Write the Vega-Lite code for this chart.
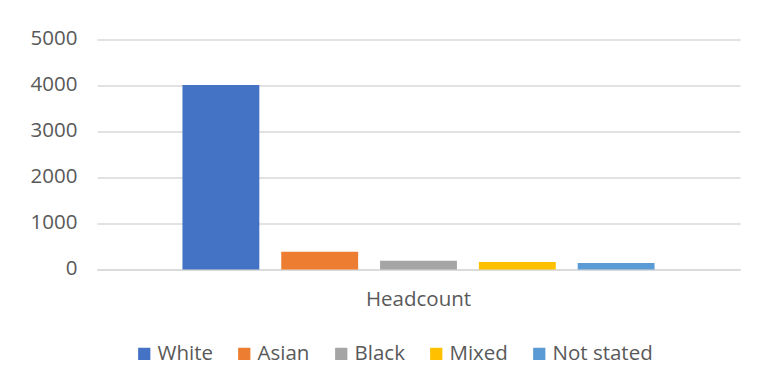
{
  "$schema": "https://vega.github.io/schema/vega-lite/v6.json",
  "width": 643,
  "height": 230,
  "autosize": {"type": "none"},
  "padding": {"left": 97, "top": 39.5, "right": 24, "bottom": 117},
  "background": "white",
  "config": {
    "view": {"stroke": null},
    "font": "Open Sans",
    "axis": {"labelFont": "Open Sans", "labelColor": "#595959", "labelFontSize": 20.5, "titleFont": "Open Sans"},
    "legend": {"labelFont": "Open Sans", "labelColor": "#595959", "labelFontSize": 20.5}
  },
  "data": {
    "values": [
      {"category": "Headcount", "group": "White", "value": 4010},
      {"category": "Headcount", "group": "Asian", "value": 385},
      {"category": "Headcount", "group": "Black", "value": 190},
      {"category": "Headcount", "group": "Mixed", "value": 163},
      {"category": "Headcount", "group": "Not stated", "value": 141}
    ]
  },
  "mark": {"type": "bar"},
  "encoding": {
    "x": {
      "field": "category",
      "type": "nominal",
      "scale": {"paddingInner": 0, "paddingOuter": 0.181},
      "axis": {"title": null, "labelAngle": 0, "ticks": false, "domainColor": "#d9d9d9", "domainWidth": 1.5, "labelPadding": 20}
    },
    "xOffset": {
      "field": "group",
      "type": "nominal",
      "sort": ["White", "Asian", "Black", "Mixed", "Not stated"],
      "scale": {"paddingInner": 0.222, "paddingOuter": 0}
    },
    "y": {
      "field": "value",
      "type": "quantitative",
      "scale": {"domain": [0, 5000], "nice": false},
      "axis": {"title": null, "values": [0, 1000, 2000, 3000, 4000, 5000], "format": "d", "labelOverlap": false, "labelBound": false, "domain": false, "ticks": false, "gridColor": "#d9d9d9", "gridWidth": 1.5, "labelPadding": 20, "labelBaseline": "middle", "labelOffset": -1.5}
    },
    "color": {
      "field": "group",
      "type": "nominal",
      "sort": ["White", "Asian", "Black", "Mixed", "Not stated"],
      "scale": {
        "domain": ["White", "Asian", "Black", "Mixed", "Not stated"],
        "range": ["#4472C4", "#ED7D31", "#A5A5A5", "#FFC000", "#5B9BD5"]
      },
      "legend": {
        "title": null,
        "orient": "none",
        "legendX": 37,
        "legendY": 304,
        "direction": "horizontal",
        "symbolType": "square",
        "symbolSize": 150,
        "symbolStrokeWidth": 0,
        "labelOffset": 3,
        "columnPadding": 21
      }
    }
  }
}
